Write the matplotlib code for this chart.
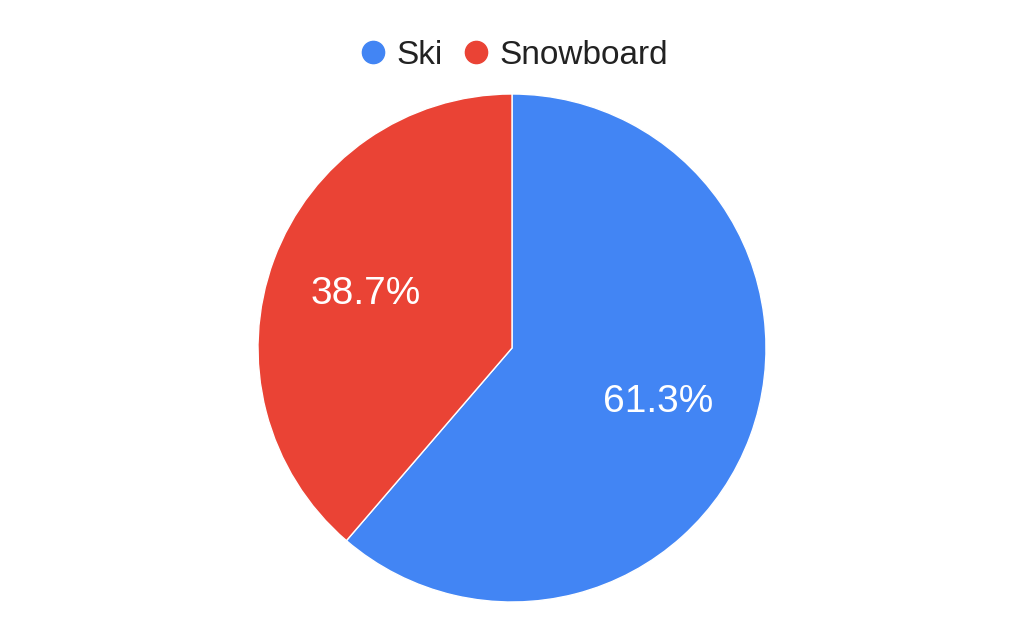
import matplotlib.pyplot as plt
from matplotlib.lines import Line2D

# share of riders
labels = ['Ski', 'Snowboard']
values = [61.3, 38.7]
colors = ['#4285F4', '#EA4335']

plt.rcParams['font.family'] = ['Liberation Sans', 'DejaVu Sans']

fig = plt.figure(figsize=(10.24, 6.33), dpi=100)
W, H = 1024, 633
cx, cy, r = 512, 348, 254
ax = fig.add_axes([(cx - r) / W, (H - cy - r) / H, 2 * r / W, 2 * r / H])

wedges, texts, autotexts = ax.pie(values, colors=colors, startangle=90, counterclock=False,
                                  autopct='%1.1f%%', pctdistance=0.615,
                                  wedgeprops=dict(edgecolor='white', linewidth=1),
                                  textprops=dict(color='white', fontsize=28))
ax.set_xlim(-1, 1)
ax.set_ylim(-1, 1)
ax.axis('off')

handles = [Line2D([], [], marker='o', linestyle='', markersize=16, markerfacecolor=c,
                  markeredgecolor=c) for c in colors]
fig.legend(handles, labels, loc='center', bbox_to_anchor=(0.5, 1 - 55 / H), ncol=2,
           frameon=False, fontsize=24, handlelength=1.0, handletextpad=0.2,
           columnspacing=0.5, labelcolor='#222222')

fig.savefig('out.png', dpi=100)
